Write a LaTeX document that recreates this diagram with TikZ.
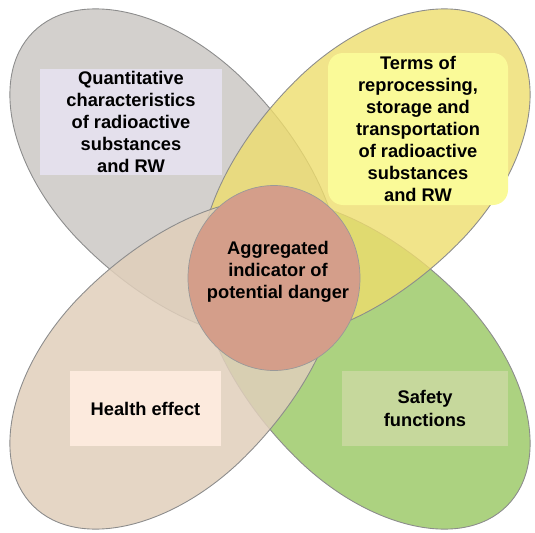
\documentclass[tikz,border=0pt]{standalone}
\usepackage{fontspec}
\setmainfont{Liberation Sans}
\usetikzlibrary{shapes}

\definecolor{petalgray}{RGB}{211,208,205}
\definecolor{petalyellow}{RGB}{238,221,109}
\definecolor{petalbeige}{RGB}{224,207,187}
\definecolor{petalgreen}{RGB}{172,210,128}
\definecolor{coreroast}{RGB}{212,158,138}
\definecolor{boxgray}{RGB}{228,224,236}
\definecolor{boxyellow}{RGB}{250,250,152}
\definecolor{boxbeige}{RGB}{252,234,221}
\definecolor{boxgreen}{RGB}{198,216,156}

\begin{document}
\begin{tikzpicture}[
    petal/.style={draw=black!45, line width=0.5pt},
    txt/.style={font=\bfseries\fontsize{10.4}{12.6}\selectfont, align=center, inner sep=0pt}
]
    \useasboundingbox (0, 0) rectangle (10.7, 10.64);

    \foreach \ang/\col/\op in {135/petalgray/1, -45/petalgreen/1, 45/petalyellow/0.8, 225/petalbeige/0.85}
        \draw[petal, fill=\col, fill opacity=\op, shift={(5.4, 5.26)}, rotate=\ang]
            (6.7, 0) arc[start angle=0, end angle=90, x radius=3.7, y radius=2.3]
            arc[start angle=90, end angle=270, x radius=4.4, y radius=2.3]
            arc[start angle=270, end angle=360, x radius=3.7, y radius=2.3] -- cycle;

    \node[ellipse, draw=black!40, fill=coreroast, minimum width=3.44cm, minimum height=3.7cm] (core) at (5.48, 5.08) {};
    \node[txt] (coretext) at (5.56, 5.2) {Aggregated\\indicator of\\potential danger};

    \node[txt, fill=boxgray, minimum width=3.64cm, minimum height=2.12cm] (quant) at (2.62, 8.2)
        {Quantitative\\characteristics\\of radioactive\\substances\\and RW};
    \node[txt, fill=boxyellow, rounded corners=0.3cm, minimum width=3.6cm, minimum height=3.04cm] (terms) at (8.36, 8.06)
        {Terms of\\reprocessing,\\storage and\\transportation\\of radioactive\\substances\\and RW};
    \node[txt, fill=boxbeige, minimum width=3.02cm, minimum height=1.5cm] (health) at (2.91, 2.47) {Health effect};
    \node[txt, fill=boxgreen, minimum width=3.32cm, minimum height=1.5cm] (safety) at (8.5, 2.47) {Safety\\functions};
\end{tikzpicture}
\end{document}
